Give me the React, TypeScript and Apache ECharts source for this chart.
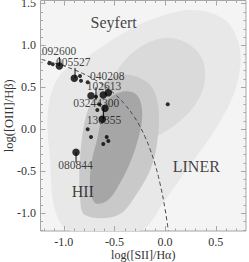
import React, { useEffect, useRef } from "react";
import * as echarts from "echarts";

const X_MIN = -1.23;
const X_MAX = 0.8;
const Y_MIN = -1.215;
const Y_MAX = 1.535;

const xMajorTicks = [-1.0, -0.5, 0.0, 0.5];
const xMinorTicks = [-1.2, -1.1, -0.9, -0.8, -0.7, -0.6, -0.4, -0.3, -0.2, -0.1, 0.1, 0.2, 0.3, 0.4, 0.6, 0.7];
const yMajorTicks = [-1.0, -0.5, 0.0, 0.5, 1.0, 1.5];
const yMinorTicks = [-1.2, -1.1, -0.9, -0.8, -0.7, -0.6, -0.4, -0.3, -0.2, -0.1, 0.1, 0.2, 0.3, 0.4, 0.6, 0.7, 0.8, 0.9, 1.1, 1.2, 1.3, 1.4];

// Density of the background galaxy sample, as nested contours
const haloContour = [
  [-0.939, -1.21], [-0.247, -1.21], [0.0, -0.846], [0.247, -0.428], [0.494, -0.01], [0.692, 0.467],
  [0.741, 0.944], [0.593, 1.302], [0.247, 1.422], [-0.148, 1.302], [-0.444, 1.123], [-0.741, 0.885],
  [-1.037, 0.646], [-1.156, 0.228], [-1.136, -0.368], [-1.087, -0.965],
];
const branchContour = [
  [-0.346, -0.249], [-0.148, -0.13], [0.099, 0.049], [0.297, 0.288], [0.395, 0.586], [0.346, 0.885],
  [0.148, 1.064], [-0.099, 1.064], [-0.346, 0.885], [-0.494, 0.646], [-0.543, 0.348], [-0.494, -0.01],
];
const midContour = [
  [-0.79, -1.025], [-0.464, -1.025], [-0.267, -0.75], [-0.128, -0.428], [-0.069, -0.07], [-0.069, 0.288],
  [-0.148, 0.527], [-0.346, 0.646], [-0.543, 0.61], [-0.691, 0.407], [-0.79, 0.109], [-0.84, -0.368],
  [-0.84, -0.786],
];
const coreContour = [
  [-0.691, -0.881], [-0.563, -0.846], [-0.444, -0.643], [-0.346, -0.404], [-0.277, -0.166], [-0.227, 0.109],
  [-0.247, 0.348], [-0.326, 0.443], [-0.464, 0.431], [-0.593, 0.312], [-0.642, 0.049], [-0.672, -0.13],
  [-0.721, -0.368], [-0.741, -0.667],
];

// Demarcation curve (dashed)
const curveX = [-1.22, -1.1, -1.0, -0.9, -0.8, -0.7, -0.6, -0.5, -0.4, -0.3, -0.25, -0.2, -0.15, -0.1, -0.05, 0.0, 0.032];
const curveY = [0.832, 0.793, 0.755, 0.71, 0.657, 0.594, 0.517, 0.422, 0.3, 0.139, 0.037, -0.085, -0.232, -0.414, -0.646, -0.95, -1.21];

// Sample objects
const bigX = [-1.044, -0.896, -0.731, -0.61, -0.56, -0.593, -0.619, -0.879];
const bigY = [0.753, 0.607, 0.399, 0.407, 0.435, 0.249, 0.117, -0.276];
const smallX = [-1.143, -1.109, -0.84, -0.83, -0.764, -0.682, -0.669, -0.649, -0.764, -0.731, -0.576, -0.56, -0.61, 0.027];
const smallY = [0.786, 0.774, 0.634, 0.578, 0.559, 0.387, 0.228, 0.296, -0.002, -0.094, -0.094, -0.142, -0.177, 0.296];

// Vertical bars: x, top y, bottom y
const barX = [-1.044, -0.889, -0.682, -0.607, -0.879];
const barY1 = [0.861, 0.73, 0.499, 0.25, -0.276];
const barY2 = [0.753, 0.607, 0.348, 0.117, -0.398];

const objNames = ["092600", "005527", "040208", "102613", "03244300", "130355", "080844"];
const objLabelX = [-1.218, -1.077, -0.741, -0.773, -0.906, -0.773, -1.054];
const objLabelY = [0.936, 0.801, 0.638, 0.51, 0.318, 0.115, -0.428];

const regionNames = ["Seyfert", "LINER", "HII"];
const regionX = [-0.507, 0.309, -0.812];
const regionY = [1.278, -0.442, -0.741];

const FONT = '"Liberation Serif", "Times New Roman", serif';
const FRAME = "#a6a6a6";
const TEXT = "#333";

function polySeries(pts: number[][], color: string, z: number) {
  return {
    type: "custom",
    data: pts,
    encode: { x: 0, y: 1 },
    clip: true,
    silent: true,
    z,
    renderItem: (params: any, api: any) => {
      if (params.dataIndex !== 0) return null;
      const points = pts.map((p) => api.coord(p));
      return {
        type: "polygon",
        shape: { points, smooth: 0.35 },
        style: { fill: color },
      };
    },
  };
}

function tickSeries(vals: number[], dim: "x" | "y", len: number) {
  return {
    type: "custom",
    data: vals.map((v) => (dim === "x" ? [v, Y_MIN] : [X_MIN, v])),
    encode: { x: 0, y: 1 },
    clip: false,
    silent: true,
    z: 10,
    renderItem: (params: any, api: any) => {
      const v = api.value(dim === "x" ? 0 : 1);
      const style = { stroke: FRAME, lineWidth: 1 };
      if (dim === "x") {
        const b = api.coord([v, Y_MIN]);
        const t = api.coord([v, Y_MAX]);
        const x = Math.round(b[0]) + 0.5;
        return {
          type: "group",
          children: [
            { type: "line", shape: { x1: x, y1: b[1], x2: x, y2: b[1] - len }, style },
            { type: "line", shape: { x1: x, y1: t[1], x2: x, y2: t[1] + len }, style },
          ],
        };
      }
      const l = api.coord([X_MIN, v]);
      const r = api.coord([X_MAX, v]);
      const y = Math.round(l[1]) + 0.5;
      return {
        type: "group",
        children: [
          { type: "line", shape: { x1: l[0], y1: y, x2: l[0] + len, y2: y }, style },
          { type: "line", shape: { x1: r[0], y1: y, x2: r[0] - len, y2: y }, style },
        ],
      };
    },
  };
}

export default function App() {
  const ref = useRef<HTMLDivElement>(null);

  useEffect(() => {
    if (!ref.current) return;
    const chart = echarts.init(ref.current, null, { renderer: "svg" });

    const fmt = (v: number) => v.toFixed(1);

    const option: any = {
      animation: false,
      grid: {
        left: 40.5,
        top: 0.5,
        right: 3,
        bottom: 31,
        containLabel: false,
        outerBoundsMode: "none",
        show: true,
        borderColor: FRAME,
        borderWidth: 1,
        backgroundColor: "#f4f4f4",
      },
      xAxis: {
        type: "value",
        min: X_MIN,
        max: X_MAX,
        splitLine: { show: false },
        axisLine: { show: false },
        axisTick: { show: false },
        axisLabel: { customValues: xMajorTicks, formatter: fmt, margin: 4.5, fontSize: 12, fontFamily: FONT, color: TEXT },
        name: "log([SII]/Hα)",
        nameLocation: "middle",
        nameGap: 18,
        nameMoveOverlap: false,
        nameTextStyle: { fontSize: 12, lineHeight: 12, fontFamily: FONT, color: TEXT, verticalAlign: "top" },
      },
      yAxis: {
        type: "value",
        min: Y_MIN,
        max: Y_MAX,
        splitLine: { show: false },
        axisLine: { show: false },
        axisTick: { show: false },
        axisLabel: { customValues: yMajorTicks, formatter: fmt, margin: 4.5, fontSize: 12, fontFamily: FONT, color: TEXT },
        name: "log([OIII]/Hβ)",
        nameLocation: "middle",
        nameGap: 25.5,
        nameMoveOverlap: false,
        nameTextStyle: { fontSize: 12.5, fontFamily: FONT, color: TEXT },
      },
      series: [
        polySeries(haloContour, "#e8e8e8", 1),
        polySeries(branchContour, "#dadada", 2),
        polySeries(midContour, "#c9c9c9", 3),
        polySeries(coreContour, "#a6a6a6", 4),
        tickSeries(xMajorTicks, "x", 5),
        tickSeries(xMinorTicks, "x", 2.5),
        tickSeries(yMajorTicks, "y", 5),
        tickSeries(yMinorTicks, "y", 2.5),
        {
          type: "line",
          data: curveX.map((x, i) => [x, curveY[i]]),
          symbol: "none",
          smooth: true,
          lineStyle: { color: "#444", width: 1, type: [4, 3] },
          z: 5,
          silent: true,
        },
        {
          type: "custom",
          data: barX.map((x, i) => [x, barY1[i], x, barY2[i]]),
          encode: { x: [0, 2], y: [1, 3] },
          z: 6,
          silent: true,
          renderItem: (params: any, api: any) => {
            const p1 = api.coord([api.value(0), api.value(1)]);
            const p2 = api.coord([api.value(2), api.value(3)]);
            return {
              type: "line",
              shape: { x1: p1[0], y1: p1[1], x2: p2[0], y2: p2[1] },
              style: { stroke: "#111", lineWidth: 1 },
            };
          },
        },
        {
          type: "scatter",
          data: smallX.map((x, i) => [x, smallY[i]]),
          symbol: "circle",
          symbolSize: 4,
          itemStyle: { color: "#000" },
          z: 7,
          silent: true,
        },
        {
          type: "scatter",
          data: bigX.map((x, i) => [x, bigY[i]]),
          symbol: "circle",
          symbolSize: 7.5,
          itemStyle: { color: "#000" },
          z: 8,
          silent: true,
        },
        {
          type: "scatter",
          data: objNames.map((n, i) => ({ name: n, value: [objLabelX[i], objLabelY[i]] })),
          symbolSize: 0,
          itemStyle: { color: "#000" },
          z: 9,
          silent: true,
          label: {
            show: true,
            position: "right",
            distance: 0,
            formatter: "{b}",
            fontSize: 11.5,
            lineHeight: 10,
            fontFamily: FONT,
            color: "#111",
            textBorderWidth: 0,
            textBorderColor: "transparent",
          },
        },
        {
          type: "scatter",
          data: regionNames.map((n, i) => ({ name: n, value: [regionX[i], regionY[i]] })),
          symbolSize: 0,
          itemStyle: { color: "#000" },
          z: 9,
          silent: true,
          label: {
            show: true,
            position: "inside",
            align: "center",
            verticalAlign: "middle",
            formatter: "{b}",
            fontSize: 16,
            fontFamily: FONT,
            color: "#111",
            textBorderWidth: 0,
            textBorderColor: "transparent",
          },
        },
      ],
    };

    chart.setOption(option);
    return () => chart.dispose();
  }, []);

  return (
    <div
      ref={ref}
      style={{ position: "absolute", left: 0, top: 0, width: 249, height: 262 }}
    />
  );
}
